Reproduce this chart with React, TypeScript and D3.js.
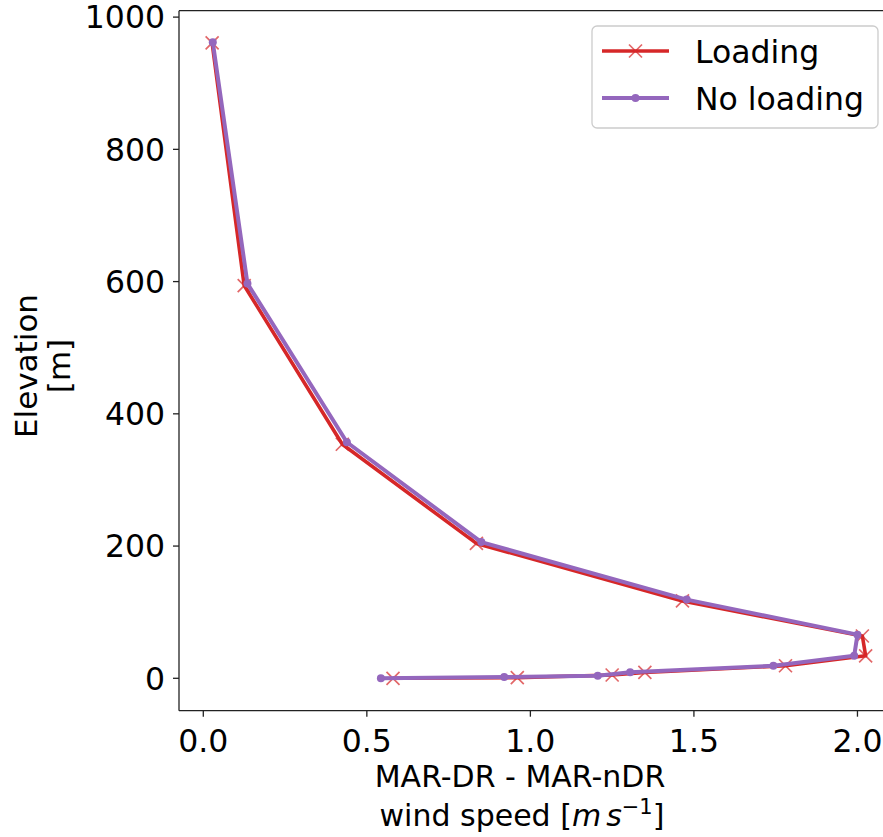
import React from 'react';
import * as d3 from 'd3';

// wind speed difference (m/s) and elevation (m), bottom to top
const elevLoading = [0, 1, 5, 9, 19, 34, 64, 117, 204, 354, 594, 961];
const windLoading = [0.58, 0.96, 1.25, 1.35, 1.78, 2.025, 2.015, 1.465, 0.835, 0.425, 0.125, 0.027];
const elevNoLoading = [0, 2, 4, 9, 19, 34, 66, 119, 206, 357, 597, 962];
const windNoLoading = [0.543, 0.92, 1.206, 1.305, 1.743, 1.99, 2.0, 1.478, 0.85, 0.439, 0.135, 0.029];

const xTicks = [0, 0.5, 1.0, 1.5, 2.0];
const yTicks = [0, 200, 400, 600, 800, 1000];
const seriesNames = ['Loading', 'No loading'];

const W = 883;
const H = 837;
const left = 179;
const top = 10.7;
const bottom = 710.7;
const font = 'DejaVu Sans, sans-serif';
const tickFs = 31.5;
const labelFs = 30;

const RED = '#d62728';
const PURPLE = '#9467bd';

const App = () => {
  const x = d3.scaleLinear().domain([-0.0743, 2.127]).range([left, 899]);
  const y = d3.scaleLinear().domain([-49, 1009.7]).range([bottom, top]);

  const ptsL = windLoading.map((w, i) => [x(w), y(elevLoading[i])] as [number, number]);
  const ptsN = windNoLoading.map((w, i) => [x(w), y(elevNoLoading[i])] as [number, number]);
  const line = d3.line();

  const cross = (cx: number, cy: number, k: string) => (
    <path
      key={k}
      d={`M${cx - 6.5},${cy - 6.5}L${cx + 6.5},${cy + 6.5}M${cx - 6.5},${cy + 6.5}L${cx + 6.5},${cy - 6.5}`}
      stroke={RED}
      strokeOpacity={0.7}
      strokeWidth={1.7}
      fill="none"
    />
  );

  return (
    <svg width={W} height={H} style={{ position: 'fixed', left: 0, top: 0, background: '#fff' }} fontFamily={font}>
      <rect width={W} height={H} fill="#fff" />
      {/* series */}
      <path d={line(ptsL) || ''} stroke={RED} strokeWidth={3.6} fill="none" strokeLinejoin="round" />
      {ptsL.map((p, i) => cross(p[0], p[1], 'c' + i))}
      <path d={line(ptsN) || ''} stroke={PURPLE} strokeWidth={4} fill="none" strokeLinejoin="round" />
      {ptsN.map((p, i) => (
        <circle key={'d' + i} cx={p[0]} cy={p[1]} r={4} fill={PURPLE} />
      ))}

      {/* spines */}
      <line x1={left} x2={left} y1={top} y2={bottom} stroke="#222" strokeWidth={1.3} />
      <line x1={left} x2={W} y1={bottom} y2={bottom} stroke="#222" strokeWidth={1.3} />
      <line x1={left} x2={W} y1={top} y2={top} stroke="#222" strokeWidth={1.3} />

      {/* y axis */}
      {yTicks.map((t) => (
        <g key={'y' + t}>
          <line x1={left - 6} x2={left} y1={y(t)} y2={y(t)} stroke="#222" strokeWidth={1.3} />
          <text x={left - 14} y={y(t)} dy="0.36em" textAnchor="end" fontSize={tickFs} fill="#000">
            {t}
          </text>
        </g>
      ))}
      {/* x axis */}
      {xTicks.map((t) => (
        <g key={'x' + t}>
          <line x1={x(t)} x2={x(t)} y1={bottom} y2={bottom + 6} stroke="#222" strokeWidth={1.3} />
          <text x={x(t)} y={752} textAnchor="middle" fontSize={tickFs} fill="#000">
            {t.toFixed(1)}
          </text>
        </g>
      ))}

      <text x={520} y={787} textAnchor="middle" fontSize={labelFs} fill="#000">MAR-DR - MAR-nDR</text>
      <text x={522} y={826} textAnchor="middle" fontSize={labelFs} fill="#000">
        wind speed [<tspan fontStyle="italic">m</tspan>
        <tspan dx={5} fontStyle="italic">s</tspan>
        <tspan dy={-12} fontSize={21}>−1</tspan>
        <tspan dy={12}>]</tspan>
      </text>

      <g transform="translate(37,366) rotate(-90)">
        <text x={0} y={0} textAnchor="middle" fontSize={labelFs + 1} fill="#000">Elevation</text>
        <text x={0} y={33} textAnchor="middle" fontSize={labelFs + 1} fill="#000">[m]</text>
      </g>

      {/* legend */}
      <rect x={592} y={26} width={286} height={102} rx={5} fill="#fff" fillOpacity={0.8} stroke="#ccc" strokeWidth={1.3} />
      <line x1={602} x2={669} y1={51} y2={51} stroke={RED} strokeWidth={3.6} />
      {cross(635.5, 51, 'lc')}
      <text x={695} y={63} fontSize={tickFs} fill="#000">{seriesNames[0]}</text>
      <line x1={602} x2={669} y1={98} y2={98} stroke={PURPLE} strokeWidth={4} />
      <circle cx={635.5} cy={98} r={4} fill={PURPLE} />
      <text x={695} y={110} fontSize={tickFs} fill="#000">{seriesNames[1]}</text>
    </svg>
  );
};

export default App;
